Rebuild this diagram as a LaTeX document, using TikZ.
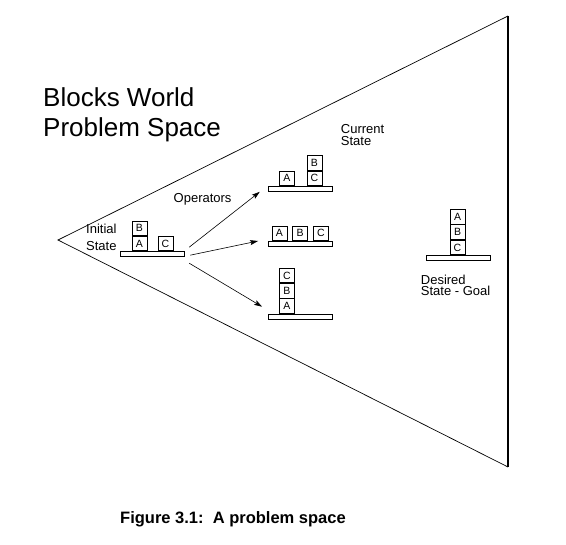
\documentclass[tikz,border=0pt]{standalone}
\usepackage{fontspec}
\setmainfont{Liberation Sans}
\usetikzlibrary{arrows.meta,positioning}
\tikzset{
    block/.style =  {rectangle,
                    fill=white,
                    draw=black,
                    line width=0.8pt,
                    minimum width=15pt,
                    minimum height=14.5pt,
                    inner sep=0pt,
                    font=\fontsize{10.5}{12}\selectfont},
    shelf/.style =  {rectangle,
                    fill=white,
                    draw=black,
                    line width=0.8pt,
                    minimum width=64pt,
                    minimum height=5pt,
                    inner sep=0pt},
    lbl/.style =    {anchor=base west,
                    align=left,
                    inner sep=0pt,
                    font=\fontsize{13}{#1}\selectfont},
    lbl/.default = 13,
    -,
    >={Stealth[length=8pt,width=5pt,inset=1.5pt]},
    draw=black}

\begin{document}
\begin{tikzpicture}[x=1pt,y=-1pt]
                \useasboundingbox (0,0) rectangle (566,545);
                % the problem space
                \coordinate (apex) at (58,240);
                \coordinate (top)  at (508,16);
                \coordinate (bot)  at (508,467);
                \draw [line width=0.7pt] (top) -- (apex) -- (bot);
                \draw [line width=1.3pt] (top) -- (bot);
                \node[anchor=base west,inner sep=0pt,align=left,
                      font=\fontsize{26}{30}\selectfont] (ttl) at (43,137) {Blocks World\\Problem Space};
                % initial state
                \node[shelf]  (T0) at (152.3,254.2)  {};
                \node[block]  (A0) [above right=0pt and 11.7pt of T0.north west] {A};
                \node[block]  (B0) [above=0pt of A0]                             {B};
                \node[block]  (C0) [above right=0pt and 37.7pt of T0.north west] {C};
                \node[lbl=17] (init) at (86,251)     {Initial\\State};
                % current states
                \node[shelf]  (T1) at (300.5,188.8)  {};
                \node[block]  (A1) [above right=0pt and 11pt of T1.north west]   {A};
                \node[block]  (C1) [above right=0pt and 38.4pt of T1.north west] {C};
                \node[block]  (B1) [above=0pt of C1]                             {B};
                \node[shelf]  (T2) at (300.5,243.8)  {};
                \node[block]  (A2) [above right=0pt and 3.4pt of T2.north west]  {A};
                \node[block]  (B2) [right=5pt of A2]                             {B};
                \node[block]  (C2) [right=5pt of B2]                             {C};
                \node[shelf]  (T3) at (300.5,316.7)  {};
                \node[block]  (A3) [above right=0pt and 11pt of T3.north west]   {A};
                \node[block]  (B3) [above=0pt of A3]                             {B};
                \node[block]  (C3) [above=0pt of B3]                             {C};
                \node[lbl=12] (cur) at (340.7,146)   {Current\\State};
                % desired state
                \node[shelf]  (T4) at (458,258)      {};
                \node[block]  (C4) [above right=0pt and 24pt of T4.north west]   {C};
                \node[block]  (B4) [above=0pt of C4]                             {B};
                \node[block]  (A4) [above=0pt of B4]                             {A};
                \node[lbl=11.5] (goal) at (420.7,296) {Desired\\State - Goal};
                % operators
                \node[lbl]    (ops) at (173.5,203)   {Operators};
                \draw [line width=0.6pt,->] ([shift={(4.5,-7)}]T0.east) -- ([shift={(-8.3,3)}]T1.west);
                \draw [line width=0.6pt,->] ([shift={(5.5,1)}]T0.east)  -- ([shift={(-10,-2.8)}]T2.west);
                \draw [line width=0.6pt,->] ([shift={(4.5,9)}]T0.east)  -- ([shift={(-6,-10)}]T3.west);
                \node[anchor=base west,inner sep=0pt,
                      font=\fontsize{16.5}{19}\selectfont\bfseries] (cap) at (120,524) {Figure 3.1:\ \ A problem space};
\end{tikzpicture}
\end{document}
